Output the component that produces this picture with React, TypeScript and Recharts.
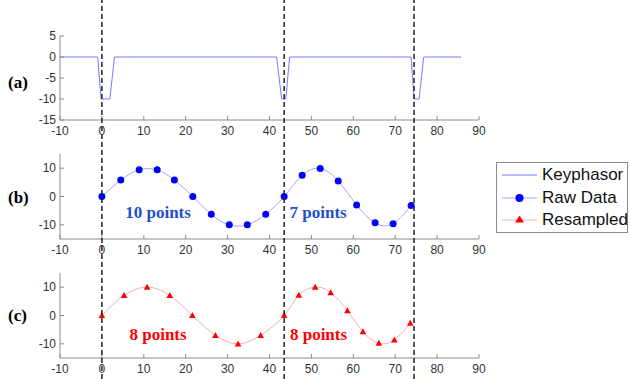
import React from 'react';
import { LineChart, Line, XAxis, YAxis, ReferenceLine, ReferenceDot, Legend } from 'recharts';

// tick positions
const xTicks = [-10, 0, 10, 20, 30, 40, 50, 60, 70, 80, 90];
const keyTicks = [-15, -10, -5, 0, 5];
const sigTicks = [-10, 0, 10];

// (a) keyphasor pulse train
const keyphasorX = [-10, -1, -0.2, 1.9, 3, 41.7, 42.9, 43.9, 44.8, 73.8, 74.5, 75.7, 76.8, 85.7];
const keyphasorY = [0, 0, -10, -10, 0, 0, -10, -10, 0, 0, -10, -10, 0, 0];

// (b) raw samples, constant time step
const rawX = [0, 4.5, 8.9, 13.2, 17.3, 21.7, 26.1, 30.4, 34.7, 39.1, 43.5, 47.8, 52.1, 56.4, 60.8, 65.2, 69.5, 73.8];
const rawY = [0, 5.8, 9.4, 9.4, 5.8, 0, -6.3, -10, -10, -6.3, 0, 7.5, 9.9, 5.5, -3, -9.3, -9.6, -3.2];

// (c) resampled, constant angle step
const resX = [0, 5.3, 10.8, 16.2, 21.6, 27.1, 32.5, 37.9, 43.5, 47.0, 50.9, 54.6, 58.6, 62.3, 66.1, 69.8, 73.6];
const resY = [0, 7.1, 10, 7.1, 0, -7, -10, -7, 0, 7.2, 10, 8.1, 1.7, -5.7, -9.8, -8.6, -2.7];

// keyphasor trigger instants (dashed lines)
const triggerTimes = [0, 43.5, 74.5];

const rawNotes = [
  { x: 13.4, y: -5.4, text: '10 points' },
  { x: 51.6, y: -5.4, text: '7 points' },
];
const resNotes = [
  { x: 13.4, y: -6.4, text: '8 points' },
  { x: 51.7, y: -6.4, text: '8 points' },
];

const legendItems = [
  { name: 'Keyphasor', line: '#7878ff', marker: 'none', color: '' },
  { name: 'Raw Data', line: '#a0a6ff', marker: 'circle', color: '#0000ff' },
  { name: 'Resampled', line: '#ffa8a8', marker: 'triangle', color: '#ff0000' },
];

const zip = (xs: number[], ys: number[]) => xs.map((x, i) => ({ x, y: ys[i] }));

const AXIS = '#8c8c8c';
const SANS = '"Liberation Sans", Arial, sans-serif';
const SERIF = '"Liberation Serif", "Times New Roman", serif';
const tickStyle = { fill: '#333', fontSize: 12, fontFamily: SANS };

const Triangle = (p: any) => {
  const { cx, cy } = p;
  return (
    <polygon
      key={p.key ?? `t-${cx}-${cy}`}
      points={`${cx},${cy - 3.4} ${cx - 3.3},${cy + 2.6} ${cx + 3.3},${cy + 2.6}`}
      fill="#ff0000"
    />
  );
};

function LegendBox() {
  return (
    <div style={{ position: 'relative', width: 132, height: 71, border: `1px solid ${AXIS}`, boxSizing: 'border-box', background: '#fff' }}>
      {legendItems.map((it, i) => {
        const cy = 12 + i * 22.6;
        return (
          <div key={it.name} style={{ position: 'absolute', left: 0, top: cy - 11, height: 22, width: 132 }}>
            <svg width={44} height={22} style={{ position: 'absolute', left: 0, top: 0 }}>
              <line x1={5} x2={40} y1={11} y2={11} stroke={it.line} strokeWidth={1} />
              {it.marker === 'circle' && <circle cx={22.5} cy={11} r={4} fill={it.color} />}
              {it.marker === 'triangle' && <polygon points="22.5,6.5 18,13.5 27,13.5" fill={it.color} />}
            </svg>
            <span style={{ position: 'absolute', left: 45, top: 0, lineHeight: '22px', fontSize: 17, fontFamily: SANS, color: '#111', whiteSpace: 'nowrap' }}>
              {it.name}
            </span>
          </div>
        );
      })}
    </div>
  );
}

function Panel({ top, bottom, data, yDomain, yTicks, label, labelDy, children }: any) {
  const chartTop = top - 16;
  const h = bottom - top + 16 + 22;
  return (
    <div style={{ position: 'absolute', left: 0, top: chartTop }}>
      <LineChart width={630} height={h} data={data} margin={{ top: 16, right: 151, bottom: 2, left: 0 }}>
        <XAxis
          dataKey="x"
          type="number"
          domain={[-10, 90]}
          ticks={xTicks}
          allowDataOverflow
          height={20}
          stroke={AXIS}
          tickSize={-4}
          tickMargin={10}
          tick={tickStyle}
          interval={0}
        />
        <XAxis xAxisId="top" orientation="top" type="number" domain={[-10, 90]} ticks={xTicks} height={0} stroke={AXIS} tickSize={-4} tick={false} />
        <YAxis
          type="number"
          domain={yDomain}
          ticks={yTicks}
          allowDataOverflow
          width={60}
          stroke={AXIS}
          tickSize={-4}
          tickMargin={8}
          tick={tickStyle}
          interval={0}
          label={{ value: label, position: 'insideLeft', offset: 8, dy: labelDy, fill: '#000', fontSize: 17, fontWeight: 'bold', fontFamily: SERIF }}
        />
        <YAxis yAxisId="right" orientation="right" type="number" domain={yDomain} ticks={yTicks} width={0} stroke={AXIS} tickSize={-4} tick={false} />
        {children}
      </LineChart>
    </div>
  );
}

const note = (n: { x: number; y: number; text: string }, color: string) => (
  <ReferenceDot
    key={n.text + n.x}
    x={n.x}
    y={n.y}
    r={0}
    fill="none"
    stroke="none"
    label={{ value: n.text, position: 'center', fill: color, fontSize: 17, fontWeight: 'bold', fontFamily: SERIF }}
  />
);

export default function App() {
  const triggerData = triggerTimes.map((t) => ({ x: t, y: 0.5 }));
  return (
    <div style={{ position: 'absolute', left: 0, top: 0, width: 630, height: 379, background: '#fff', overflow: 'hidden' }}>
      <Panel top={36} bottom={120} data={zip(keyphasorX, keyphasorY)} yDomain={[-15, 5]} yTicks={keyTicks} label="(a)" labelDy={4}>
        <Line dataKey="y" type="linear" stroke="#7878ff" strokeWidth={1} dot={false} isAnimationActive={false} />
      </Panel>
      <Panel top={154} bottom={239} data={zip(rawX, rawY)} yDomain={[-15, 15]} yTicks={sigTicks} label="(b)" labelDy={0}>
        <Line dataKey="y" type="natural" stroke="#a0a6ff" strokeWidth={1} dot={{ r: 3.5, fill: '#0000ff', stroke: 'none' }} isAnimationActive={false} />
        {rawNotes.map((n) => note(n, '#1f4fcf'))}
        <Legend
          layout="horizontal"
          align="center"
          verticalAlign="middle"
          content={() => <LegendBox />}
          wrapperStyle={{ left: 496, top: 162 - 138, width: 132, height: 71 }}
        />
      </Panel>
      <Panel top={273} bottom={358} data={zip(resX, resY)} yDomain={[-15, 15]} yTicks={sigTicks} label="(c)" labelDy={-1}>
        <Line dataKey="y" type="natural" stroke="#ffa8a8" strokeWidth={1} dot={Triangle} isAnimationActive={false} />
        {resNotes.map((n) => note(n, '#ff0000'))}
      </Panel>
      <div style={{ position: 'absolute', left: 0, top: 0, pointerEvents: 'none' }}>
        <LineChart width={630} height={379} data={triggerData} margin={{ top: 0, right: 151, bottom: 0, left: 60 }}>
          <XAxis dataKey="x" type="number" domain={[-10, 90]} allowDataOverflow hide />
          <YAxis type="number" domain={[0, 1]} allowDataOverflow hide />
          <Line dataKey="y" stroke="none" dot={false} isAnimationActive={false} />
          {triggerTimes.map((t) => (
            <ReferenceLine key={t} x={t} stroke="#222" strokeWidth={1.5} strokeDasharray="5 3" ifOverflow="visible" />
          ))}
        </LineChart>
      </div>
    </div>
  );
}
